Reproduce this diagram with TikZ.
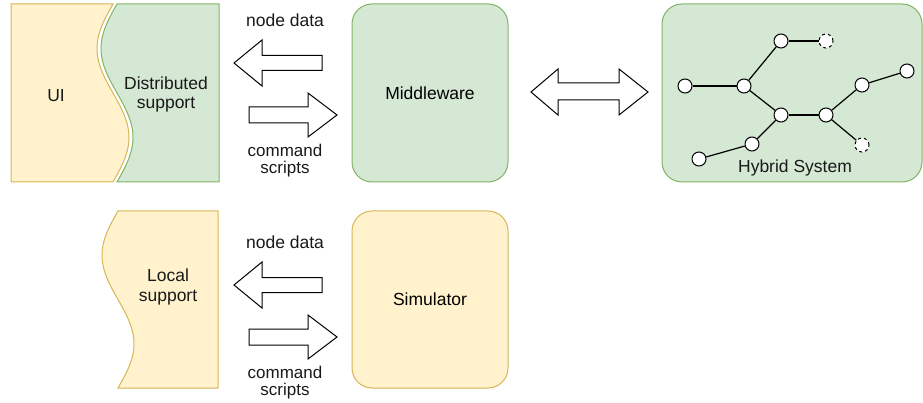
\documentclass[tikz,border=0pt]{standalone}
\usepackage{fontspec}
\setmainfont{Liberation Sans}
\definecolor{gfill}{HTML}{D5E8D4}
\definecolor{gstroke}{HTML}{82B366}
\definecolor{yfill}{HTML}{FFF2CC}
\definecolor{ystroke}{HTML}{D6B656}
\begin{document}
\begin{tikzpicture}[x=1pt,y=-1pt,
  gshape/.style={draw=gstroke, fill=gfill, line width=1pt},
  yshape/.style={draw=ystroke, fill=yfill, line width=1pt},
  gbox/.style={gshape, rounded corners=20pt, minimum width=156pt, minimum height=178pt, inner sep=0pt},
  ybox/.style={yshape, rounded corners=20pt, minimum width=156pt, minimum height=177pt, inner sep=0pt},
  lbl/.style={font=\fontsize{17.5}{19}\selectfont, align=center, text=black!90, inner sep=0pt},
  blockarrow/.style={draw=black, fill=white, line width=1pt, line join=miter},
  vtx/.style={circle, draw=black, fill=white, minimum size=14pt, inner sep=0pt, line width=1pt},
  dvtx/.style={vtx, dashed},
  edge/.style={draw=black, line width=1.2pt}
]
\useasboundingbox (0,0) rectangle (923,403);

% UI and Distributed support
\path[yshape] (11,4) -- (113,4)
  -- plot[domain=0:1, samples=60, smooth] ({113-16*sin(360*\x)},{4+178*\x})
  -- (11,182) -- cycle;
\path[gshape] (117,4) -- (219,4) -- (219,182) -- (117,182)
  -- plot[domain=1:0, samples=60, smooth] ({117-16*sin(360*\x)},{4+178*\x})
  -- cycle;
\node[lbl] (ui) at (56,96) {UI};
\node[lbl, font=\fontsize{17.5}{19}\selectfont] (ds) at (166,94) {Distributed\\support};

% Local support
\path[yshape] (118,211) -- (218,211) -- (218,388) -- (118,388)
  -- plot[domain=1:0, samples=60, smooth] ({118-16*sin(360*\x)},{211+177*\x})
  -- cycle;
\node[lbl, font=\fontsize{17.5}{20}\selectfont] (ls) at (168,287) {Local\\support};

% Middleware and Simulator
\node[gbox] (mw) at (430,93) {\fontsize{17.5}{19}\selectfont Middleware};
\node[ybox] (sim) at (430,299.5) {\fontsize{17.5}{19}\selectfont Simulator};

% Top arrows
\path[blockarrow] (234,63) -- (262,40) -- (262,55.5) -- (322,55.5) -- (322,70.5)
  -- (262,70.5) -- (262,86) -- cycle;
\path[blockarrow] (337,115) -- (308,93) -- (308,107) -- (249,107) -- (249,123)
  -- (308,123) -- (308,137) -- cycle;
\node[lbl] (nd1) at (285,20.5) {node data};
\node[lbl, font=\fontsize{17}{17}\selectfont] (cs1) at (285,161) {command\\scripts};

% Bottom arrows
\path[blockarrow] (234,285) -- (262,262) -- (262,277.5) -- (322,277.5) -- (322,292.5)
  -- (262,292.5) -- (262,308) -- cycle;
\path[blockarrow] (337,337) -- (308,315) -- (308,329) -- (249,329) -- (249,345)
  -- (308,345) -- (308,359) -- cycle;
\node[lbl] (nd2) at (285,242.5) {node data};
\node[lbl, font=\fontsize{17}{17}\selectfont] (cs2) at (285,383) {command\\scripts};

% Double arrow
\path[blockarrow] (531,92) -- (558,69) -- (558,83) -- (619,83) -- (619,69) -- (648,92)
  -- (619,115) -- (619,100) -- (558,100) -- (558,115) -- cycle;

% Hybrid system
\node[gbox, minimum width=260pt] (hyb) at (792,93) {};
\node[lbl] (hs) at (795,168) {Hybrid System};
\node[vtx]  (v1)  at (781,41) {};
\node[dvtx] (v2)  at (826,41) {};
\node[vtx]  (v3)  at (685,86) {};
\node[vtx]  (v4)  at (744,86) {};
\node[vtx]  (v5)  at (781,115) {};
\node[vtx]  (v6)  at (826,115) {};
\node[vtx]  (v7)  at (862,85) {};
\node[vtx]  (v8)  at (907,71) {};
\node[dvtx] (v9)  at (862,145) {};
\node[vtx]  (v10) at (752,144) {};
\node[vtx]  (v11) at (699,159) {};
\draw[edge] (v1) -- (v2);
\draw[edge] (v3) -- (v4);
\draw[edge] (v4) -- (v1);
\draw[edge] (v4) -- (v5);
\draw[edge] (v5) -- (v6);
\draw[edge] (v6) -- (v7);
\draw[edge] (v7) -- (v8);
\draw[edge] (v6) -- (v9);
\draw[edge] (v5) -- (v10);
\draw[edge] (v10) -- (v11);
\end{tikzpicture}
\end{document}
